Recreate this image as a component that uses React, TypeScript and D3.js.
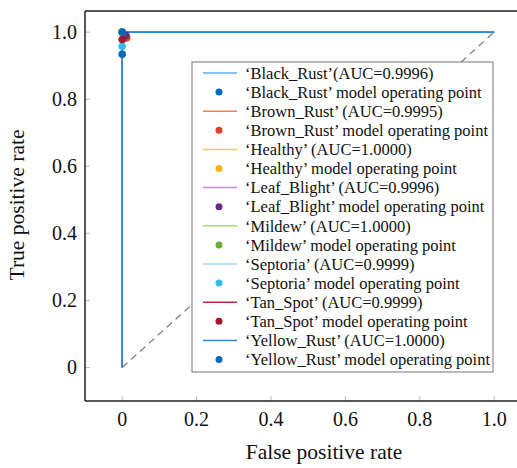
import * as d3 from "d3";

const W = 517;
const H = 468;
const MARGIN = { top: 11, left: 85, bottom: 67 };

const classes = ["Black_Rust", "Brown_Rust", "Healthy", "Leaf_Blight", "Mildew", "Septoria", "Tan_Spot", "Yellow_Rust"];
const aucs = ["0.9996", "0.9995", "1.0000", "0.9996", "1.0000", "0.9999", "0.9999", "1.0000"];
const lineColors = ["#5ab0e8", "#f0804a", "#f2cf45", "#c58fcf", "#aad57a", "#9fd8f4", "#b8283f", "#2f8ad8"];
const pointColors = ["#0a69b8", "#dc4426", "#f3b21a", "#6c2a86", "#6aac38", "#2fbdee", "#a3172e", "#0a69b8"];

// ROC curve vertices per class [fpr, tpr]
const rocCurves: [number, number][][] = [
  [[0, 0], [0, 0.93], [0.002, 0.98], [0.01, 1], [1, 1]],
  [[0, 0], [0, 0.95], [0.004, 0.98], [0.012, 1], [1, 1]],
  [[0, 0], [0, 1], [1, 1]],
  [[0, 0], [0, 0.96], [0.005, 0.99], [0.012, 1], [1, 1]],
  [[0, 0], [0, 1], [1, 1]],
  [[0, 0], [0, 0.96], [0.003, 1], [1, 1]],
  [[0, 0], [0, 0.97], [0.003, 1], [1, 1]],
  [[0, 0], [0, 1], [1, 1]],
];
// model operating points [fpr, tpr]
const opPoints: [number, number][] = [
  [0, 0.934],
  [0.012, 0.983],
  [0, 1],
  [0.01, 0.99],
  [0, 1],
  [0, 0.958],
  [0, 0.978],
  [0, 1],
];

const xTicks = [0, 0.2, 0.4, 0.6, 0.8, 1.0];
const yTicks = [0, 0.2, 0.4, 0.6, 0.8, 1.0];

const FONT = '"Liberation Serif", "Times New Roman", Times, "DejaVu Serif", serif';

export default function App() {
  const x = d3.scaleLinear().domain([-0.1, 1.1]).range([MARGIN.left, MARGIN.left + 1.2 * 372]);
  const y = d3.scaleLinear().domain([-0.1, 1.063]).range([H - MARGIN.bottom, MARGIN.top]);
  const line = d3
    .line<[number, number]>()
    .x((d) => x(d[0]))
    .y((d) => y(d[1]));

  const fmt = (v: number) => (v === 0 ? "0" : v.toFixed(1));

  const legend = { x: 192, y: 62, w: 301, h: 310, row: 19.1, first: 73 };

  return (
    <div style={{ position: "absolute", left: 0, top: 0, fontFamily: FONT }}>
      <svg width={W} height={H} style={{ display: "block", background: "#fff" }}>
        <style>{`text { font-family: ${FONT}; }`}</style>
        <rect width={W} height={H} fill="#fff" />
        {/* diagonal */}
        <path d={line([[0, 0], [1, 1]]) || ""} stroke="#7f7f7f" strokeWidth={1.3} strokeDasharray="7,5" fill="none" />
        {/* ticks */}
        {xTicks.map((t) => (
          <line key={"xt" + t} x1={x(t)} x2={x(t)} y1={y(-0.1)} y2={y(-0.1) - 5} stroke="#bbb" strokeWidth={1} />
        ))}
        {yTicks.map((t) => (
          <line key={"yt" + t} x1={x(-0.1)} x2={x(-0.1) + 5} y1={y(t)} y2={y(t)} stroke="#bbb" strokeWidth={1} />
        ))}
        {/* roc curves */}
        {rocCurves.map((c, i) => (
          <path key={"c" + i} d={line(c) || ""} stroke={lineColors[i]} strokeWidth={1.5} fill="none" />
        ))}
        {opPoints.map((p, i) => (
          <circle key={"p" + i} cx={x(p[0])} cy={y(p[1])} r={3.8} fill={pointColors[i]} />
        ))}
        {/* axes */}
        <line x1={MARGIN.left} x2={W} y1={MARGIN.top} y2={MARGIN.top} stroke="#222" strokeWidth={1.5} />
        <line x1={MARGIN.left} x2={MARGIN.left} y1={MARGIN.top} y2={y(-0.1)} stroke="#222" strokeWidth={1.5} />
        <line x1={MARGIN.left} x2={W} y1={y(-0.1)} y2={y(-0.1)} stroke="#222" strokeWidth={1.5} />
        {xTicks.map((t) => (
          <text key={"xl" + t} x={x(t)} y={y(-0.1) + 25} textAnchor="middle" fontSize={20} fill="#111">
            {fmt(t)}
          </text>
        ))}
        {yTicks.map((t) => (
          <text key={"yl" + t} x={77} y={y(t)} dy="0.35em" textAnchor="end" fontSize={20} fill="#111">
            {fmt(t)}
          </text>
        ))}
        <text x={324} y={459} textAnchor="middle" fontSize={21.5} fill="#111">
          False positive rate
        </text>
        <text transform={`translate(24,205) rotate(-90)`} textAnchor="middle" fontSize={21.5} fill="#111">
          True positive rate
        </text>
        {/* legend */}
        <rect x={legend.x} y={legend.y} width={legend.w} height={legend.h} fill="#fff" stroke="#8a8a8a" strokeWidth={1.2} />
        {classes.map((c, i) => {
          const y1 = legend.first + 2 * i * legend.row;
          const y2 = y1 + legend.row;
          const label1 = i === 0 ? `‘${c}’(AUC=${aucs[i]})` : `‘${c}’ (AUC=${aucs[i]})`;
          return (
            <g key={"lg" + c}>
              <line x1={203} x2={237} y1={y1} y2={y1} stroke={lineColors[i]} strokeWidth={1.5} />
              <text x={245} y={y1} dy="0.35em" fontSize={16.5} fill="#111">
                {label1}
              </text>
              <circle cx={219} cy={y2} r={3.5} fill={pointColors[i]} />
              <text x={245} y={y2} dy="0.35em" fontSize={16.5} fill="#111">
                {`‘${c}’ model operating point`}
              </text>
            </g>
          );
        })}
      </svg>
    </div>
  );
}
